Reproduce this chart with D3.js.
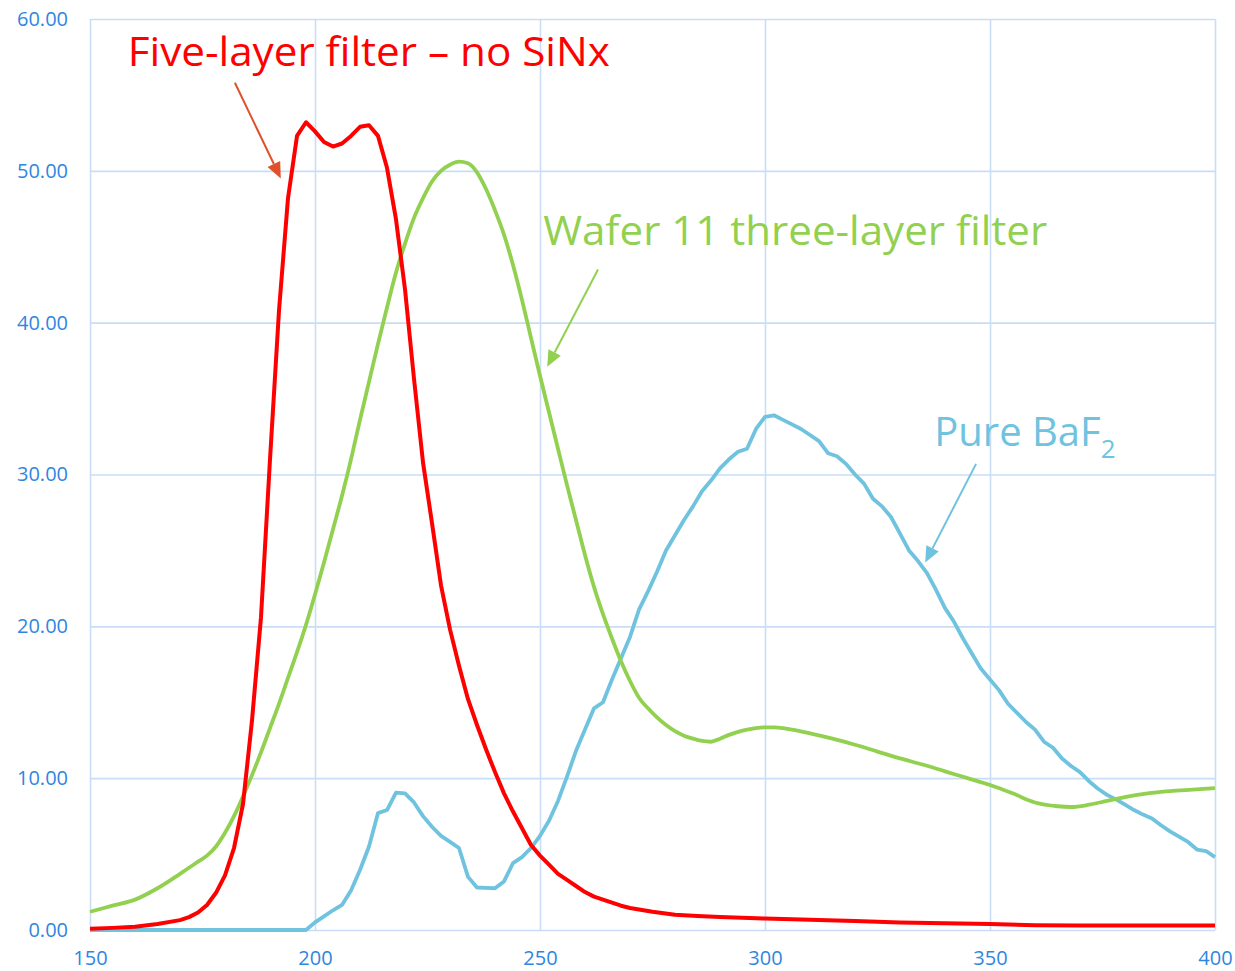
<!DOCTYPE html>
<html>
<head>
<meta charset="utf-8">
<script src="https://cdn.jsdelivr.net/npm/d3@7/dist/d3.min.js"></script>
<style>
  html, body { margin: 0; padding: 0; background: #ffffff; }
  svg { display: block; }
</style>
</head>
<body>
<svg id="chart" width="1235" height="971"></svg>
<script>
// ---------- data ----------
const xTicks = [150, 200, 250, 300, 350, 400];
const yTicks = [0, 10, 20, 30, 40, 50, 60];

// Five-layer filter – no SiNx  (wavelength, value)
const fiveLayerX = [150,155,160,165,170,172,174,176,178,180,182,184,186,188,190,192,194,196,198,200,202,204,206,208,210,212,214,216,218,220,222,224,226,228,230,232,234,236,238,240,242,244,246,248,250,252,254,256,258,260,262,264,266,268,270,275,280,285,290,300,310,320,330,340,350,360,370,380,390,400];
const fiveLayerY = [0.08,0.14,0.22,0.4,0.65,0.85,1.15,1.65,2.45,3.6,5.4,8.3,13.8,20.6,31.0,40.8,48.2,52.3,53.2,52.6,51.9,51.6,51.8,52.3,52.9,53.0,52.3,50.2,46.8,42.2,36.3,30.8,26.8,22.7,19.8,17.4,15.2,13.5,11.9,10.4,9.0,7.8,6.7,5.6,4.9,4.3,3.7,3.3,2.9,2.5,2.2,2.0,1.8,1.6,1.45,1.2,1.0,0.92,0.85,0.75,0.68,0.6,0.5,0.45,0.4,0.32,0.3,0.3,0.3,0.3];

// Wafer 11 three-layer filter
const waferX = [150,155,160,165,170,172,174,176,178,180,182,184,186,188,190,192,194,196,198,200,202,204,206,208,210,212,214,216,218,220,222,224,226,228,230,232,234,236,238,240,242,244,246,248,250,252,254,256,258,260,262,264,266,268,270,272,274,276,278,280,282,284,286,288,290,292,294,296,298,300,302,304,306,310,315,320,325,330,335,340,345,350,355,360,365,368,372,376,380,385,390,395,400];
const waferY = [1.2,1.6,2.0,2.75,3.7,4.1,4.5,4.9,5.5,6.4,7.5,8.8,10.2,11.7,13.3,14.9,16.6,18.3,20.1,22.1,24.2,26.4,28.6,31.0,33.6,36.1,38.6,41.0,43.3,45.2,46.9,48.2,49.3,50.0,50.4,50.6,50.5,49.9,48.8,47.4,45.8,43.8,41.5,39.0,36.5,34.1,31.7,29.3,27.0,24.7,22.6,20.8,19.2,17.7,16.4,15.3,14.6,14.0,13.5,13.1,12.8,12.6,12.45,12.4,12.6,12.85,13.05,13.2,13.3,13.35,13.35,13.3,13.2,12.95,12.6,12.2,11.75,11.3,10.9,10.45,10.0,9.55,9.0,8.4,8.15,8.1,8.25,8.5,8.75,9.0,9.15,9.25,9.35];

// Pure BaF2
const bafX = [150,198,200,202,204,206,208,210,212,214,216,218,220,222,224,226,228,230,232,234,236,238,240,242,244,246,248,250,252,254,256,258,260,262,264,266,268,270,272,274,276,278,280,282,284,286,288,290,292,294,296,298,300,302,304,306,308,310,312,314,316,318,320,322,324,326,328,330,332,334,336,338,340,342,344,346,348,350,352,354,356,358,360,362,364,366,368,370,372,374,376,378,380,382,384,386,388,390,392,394,396,398,400];
const bafY = [0,0,0.5,0.9,1.3,1.65,2.6,3.95,5.5,7.7,7.9,9.05,9.0,8.4,7.5,6.8,6.2,5.8,5.4,3.5,2.8,2.78,2.75,3.2,4.4,4.8,5.4,6.2,7.2,8.5,10.1,11.8,13.2,14.6,15.0,16.5,17.9,19.3,21.1,22.3,23.6,25.0,26.0,27.0,27.9,28.9,29.6,30.4,31.0,31.5,31.7,33.0,33.8,33.9,33.6,33.3,33.0,32.6,32.2,31.4,31.2,30.7,30.0,29.4,28.4,27.9,27.2,26.1,25.0,24.3,23.5,22.4,21.2,20.3,19.2,18.2,17.2,16.5,15.8,14.9,14.3,13.7,13.2,12.4,12.0,11.3,10.8,10.4,9.8,9.3,8.9,8.6,8.25,7.9,7.6,7.35,6.9,6.5,6.15,5.8,5.3,5.2,4.8];

// annotation labels
const labelTexts = ["Five-layer filter \u2013 no SiNx", "Wafer 11 three-layer filter", "Pure BaF"];
const labelAnchors = [[158.4, 56.9], [250.7, 45.1], [337.6, 31.9]];
const labelWidths = [482, 504, 170];
const arrowFrom = [[182.2, 55.8], [262.9, 43.5], [346.9, 30.7]];
const arrowTo = [[192.4, 49.5], [251.6, 37.1], [335.6, 24.2]];

// ---------- layout ----------
const W = 1235, H = 971;
const margin = { left: 90, right: 20, top: 19, bottom: 41 };
const colors = { red: "#ff0000", green: "#92d050", blue: "#6fc3df", arrowRed: "#e0502a", grid: "#c9def6", tick: "#2f86e0" };
const font = "'Open Sans', 'Noto Sans', sans-serif";

const svg = d3.select("#chart");
const x = d3.scaleLinear().domain([150, 400]).range([margin.left, W - margin.right]);
const y = d3.scaleLinear().domain([0, 60]).range([H - margin.bottom, margin.top]);

// grid
const gx = svg.append("g")
  .attr("transform", `translate(0,${margin.top})`)
  .call(d3.axisBottom(x).tickValues(xTicks).tickSize(y(0) - margin.top).tickFormat(""));
gx.select(".domain").remove();
gx.selectAll(".tick line").attr("stroke", colors.grid).attr("stroke-width", 1.6);

const gy = svg.append("g")
  .attr("transform", `translate(${margin.left},0)`)
  .call(d3.axisRight(y).tickValues(yTicks).tickSize(x(400) - margin.left).tickFormat(""));
gy.select(".domain").remove();
gy.selectAll(".tick line").attr("stroke", colors.grid).attr("stroke-width", 1.6);

// tick labels
const yAxis = svg.append("g")
  .attr("transform", `translate(${margin.left},0)`)
  .call(d3.axisLeft(y).tickValues(yTicks).tickSize(0).tickPadding(22).tickFormat(d3.format(".2f")));
yAxis.select(".domain").remove();
yAxis.selectAll("text").attr("fill", colors.tick).style("font-family", font).style("font-size", "20px");

const xAxis = svg.append("g")
  .attr("transform", `translate(0,${y(0)})`)
  .call(d3.axisBottom(x).tickValues(xTicks).tickSize(0).tickPadding(21).tickFormat(d3.format("d")));
xAxis.select(".domain").remove();
xAxis.selectAll("text").attr("fill", colors.tick).style("font-family", font).style("font-size", "20px");

// series
const series = [
  { xs: bafX, ys: bafY, color: colors.blue, width: 3.8, curve: d3.curveLinear },
  { xs: waferX, ys: waferY, color: colors.green, width: 3.8, curve: d3.curveMonotoneX },
  { xs: fiveLayerX, ys: fiveLayerY, color: colors.red, width: 4, curve: d3.curveLinear }
];
series.forEach(s => {
  const pts = s.xs.map((v, i) => [v, s.ys[i]]);
  svg.append("path")
    .attr("d", d3.line().x(d => x(d[0])).y(d => y(d[1])).curve(s.curve)(pts))
    .attr("fill", "none")
    .attr("stroke", s.color)
    .attr("stroke-width", s.width)
    .attr("stroke-linejoin", "round");
});

// annotations
const labelColors = [colors.red, colors.green, colors.blue];
const arrowColors = [colors.arrowRed, colors.green, colors.blue];

labelTexts.forEach((t, i) => {
  const tx = svg.append("text")
    .attr("x", x(labelAnchors[i][0]))
    .attr("y", y(labelAnchors[i][1]))
    .attr("fill", labelColors[i])
    .style("font-family", font)
    .style("font-size", "40px");
  if (i === 2) {
    tx.append("tspan").text(t);
    tx.append("tspan").text("2").attr("dy", 12).style("font-size", "26px");
  } else {
    tx.text(t).attr("textLength", labelWidths[i]).attr("lengthAdjust", "spacingAndGlyphs");
  }
});

arrowFrom.forEach((f, i) => {
  const x1 = x(f[0]), y1 = y(f[1]);
  const x2 = x(arrowTo[i][0]), y2 = y(arrowTo[i][1]);
  const ang = Math.atan2(y2 - y1, x2 - x1);
  const L = 16, Wd = 7;
  const bx = x2 - L * Math.cos(ang), by = y2 - L * Math.sin(ang);
  svg.append("line")
    .attr("x1", x1).attr("y1", y1).attr("x2", bx).attr("y2", by)
    .attr("stroke", arrowColors[i]).attr("stroke-width", 2);
  const px = -Math.sin(ang), py = Math.cos(ang);
  svg.append("path")
    .attr("d", `M${x2},${y2}L${bx + Wd * px},${by + Wd * py}L${bx - Wd * px},${by - Wd * py}Z`)
    .attr("fill", arrowColors[i]);
});
</script>
</body>
</html>
